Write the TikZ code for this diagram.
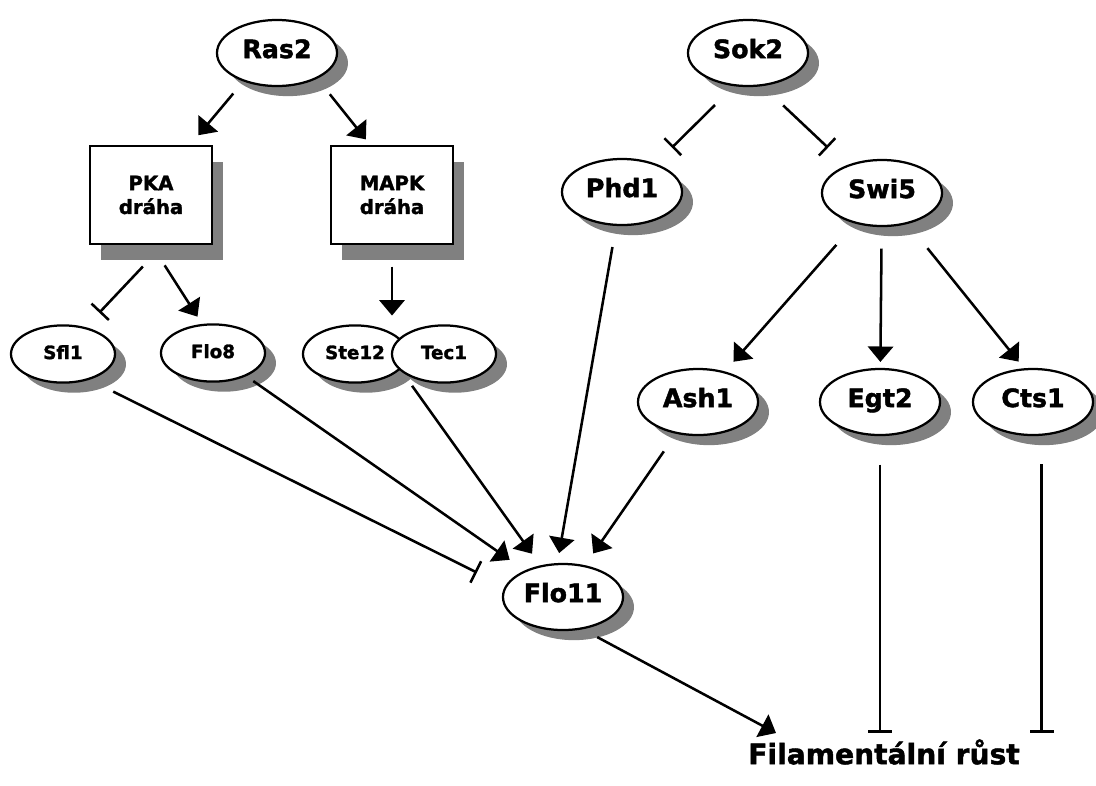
\documentclass[tikz,border=0pt]{standalone}
\usepackage{fontspec}
\setmainfont{DejaVu Sans}[BoldFeatures={FakeBold=1.6}]
\usetikzlibrary{arrows.meta, shadows, shapes.geometric, calc}
\definecolor{shadowgray}{HTML}{808080}

\begin{document}
\begin{tikzpicture}[x=0.025cm, y=-0.025cm,
    gene/.style={draw, ellipse, line width=1.6pt, fill=white, inner sep=0pt, outer sep=0pt,
      minimum width=3cm, minimum height=1.65cm, text height=0.74em, text depth=0.02em,
      font=\fontsize{18}{20}\selectfont\bfseries,
      drop shadow={shadow xshift=7.8pt, shadow yshift=-7.2pt, fill=shadowgray, opacity=1}},
    smallgene/.style={gene, minimum width=2.6cm, minimum height=1.43cm, font=\fontsize{13}{15}\selectfont\bfseries},
    pathway/.style={draw, rectangle, line width=1.6pt, fill=white, outer sep=0pt, align=center,
      minimum width=3.05cm, minimum height=2.45cm, font=\fontsize{14}{17}\selectfont\bfseries,
      drop shadow={shadow xshift=7.8pt, shadow yshift=-11.4pt, fill=shadowgray, opacity=1}},
    act/.style={-{Triangle[length=11pt, width=18pt]}, line width=1.8pt},
    inh/.style={-{Bar[width=17pt]}, line width=1.8pt}]
  \useasboundingbox (0,0) rectangle (1096,785);

  % Ras2 vetev
  \node[gene] (ras2) at (277,53) {Ras2};
  \node[pathway] (pka) at (151,195) {PKA\\dráha};
  \node[pathway] (mapk) at (392,195) {MAPK\\dráha};
  \node[smallgene] (sfl1) at (63,354) {Sfl1};
  \node[smallgene] (flo8) at (213,353) {Flo8};
  \node[smallgene] (ste12) at (355,354) {Ste12};
  \node[smallgene] (tec1) at (444,354) {Tec1};

  % Sok2 vetev
  \node[gene] (sok2) at (748,53) {Sok2};
  \node[gene] (phd1) at (622,192) {Phd1};
  \node[gene] (swi5) at (882,193) {Swi5};
  \node[gene] (ash1) at (698,402) {Ash1};
  \node[gene] (egt2) at (880,402) {Egt2};
  \node[gene] (cts1) at (1033,402) {Cts1};

  % Flo11 a fenotyp
  \node[gene] (flo11) at (563,597) {Flo11};
  \node[font=\fontsize{20}{24}\selectfont\bfseries, inner sep=0pt] (fil) at (884,752) {Filamentální růst};
  \coordinate (fil-in) at (776,733);

  \draw[act, shorten <=12pt, shorten >=10pt] (ras2.220) -- (pka.52);
  \draw[act, shorten <=15pt, shorten >=6pt] (ras2.-32) -- (mapk.113);
  \draw[inh, shorten <=22pt, shorten >=15pt] (pka.-75) -- (sfl1.50);
  \draw[act, shorten <=18pt, shorten >=7pt] (pka.south) -- (flo8.110);
  \draw[act, shorten <=16pt, shorten >=7pt] (mapk) -- (mapk |- tec1.north);

  \draw[inh, shorten <=20pt, shorten >=17pt] (sok2.248) -- (phd1.40);
  \draw[inh, shorten <=21pt, shorten >=19pt] (sok2.-67) -- (swi5.142);
  \draw[act, shorten <=21pt, shorten >=10pt] (swi5) -- (ash1);
  \draw[act, shorten <=16pt, shorten >=5pt] (swi5) -- (egt2);
  \draw[act, shorten <=23pt, shorten >=7pt] (swi5.-50) -- (cts1.104);

  \draw[inh, shorten <=20pt, shorten >=23pt] (sfl1.-45) -- (flo11.170);
  \draw[act, shorten <=7pt, shorten >=14pt] (flo8) -- (flo11);
  \draw[act, shorten <=14pt, shorten >=11pt] (tec1.200) -- (flo11);
  \draw[act, shorten <=16pt, shorten >=8pt] (phd1) -- (flo11.100);
  \draw[act, shorten <=16pt, shorten >=11pt] (ash1) -- (flo11);

  \draw[act, shorten <=13pt] (flo11.-60) -- (fil-in);
  \draw[inh, shorten <=21pt] (egt2) -- (egt2 |- fil-in);
  \draw[inh, shorten <=21pt] (cts1.-75) -- (cts1.-75 |- fil-in);
\end{tikzpicture}
\end{document}
